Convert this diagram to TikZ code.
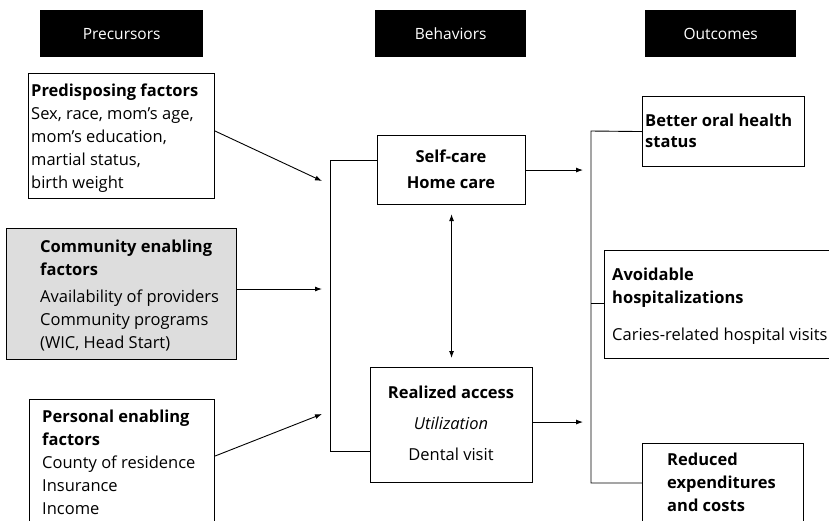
\documentclass[tikz,border=0pt]{standalone}
\usepackage{fontspec}
\setmainfont{Open Sans}
\usetikzlibrary{arrows.meta,calc}
\definecolor{boxgray}{RGB}{221,221,221}
\begin{document}
\begin{tikzpicture}[x=1pt,y=-1pt,
 box/.style={draw,line width=1.1pt,inner sep=0pt,anchor=north west},
 hdr/.style={fill=black,text=white,inner sep=0pt,anchor=north west,font=\fontsize{15.5}{17}\selectfont},
 txt/.style={inner sep=0pt,anchor=north west,align=left,font=\fontsize{16.5}{23}\selectfont},
 ctxt/.style={inner sep=0pt,anchor=north,align=center,font=\fontsize{16.5}{26}\selectfont},
 arr/.style={line width=0.9pt,-{Latex[length=7pt,width=5pt]}},
 darr/.style={line width=0.9pt,{Latex[length=7pt,width=5pt]}-{Latex[length=7pt,width=5pt]}},
 ln/.style={line width=0.9pt}]
\useasboundingbox (0,0) rectangle (829,520);
\clip (0,0) rectangle (829,520);
% headers
\node[hdr,minimum width=163pt,minimum height=47pt] (hp) at (40,10) {Precursors};
\node[hdr,minimum width=151pt,minimum height=47pt] (hb) at (375,10) {Behaviors};
\node[hdr,minimum width=151pt,minimum height=47pt] (ho) at (645,10) {Outcomes};
% boxes
\node[box,minimum width=186pt,minimum height=125pt] (pred) at (28,73) {};
\node[box,fill=boxgray,minimum width=230pt,minimum height=131pt] (comm) at (6,228) {};
\node[box,minimum width=185pt,minimum height=131pt] (pers) at (29,399) {};
\node[box,minimum width=148pt,minimum height=69pt] (self) at (377,135) {};
\node[box,minimum width=162pt,minimum height=115pt] (real) at (370,367) {};
\node[box,minimum width=162pt,minimum height=70pt] (better) at (642,96) {};
\node[box,minimum width=240pt,minimum height=108pt] (avoid) at (604,250) {};
\node[box,minimum width=161pt,minimum height=80pt] (reduced) at (642,443) {};
% texts
\node[txt] (predT) at (31,84) {\textbf{Predisposing factors}\\Sex, race, mom’s age,\\mom’s education,\\martial status,\\birth weight};
\node[txt] (commT) at (40,240) {\textbf{Community enabling}\\\textbf{factors}\\[4pt]Availability of providers\\Community programs\\(WIC, Head Start)};
\node[txt] (persT) at (42,410) {\textbf{Personal enabling}\\\textbf{factors}\\County of residence\\Insurance\\Income};
\node[ctxt] (selfT) at (451,150) {\textbf{Self-care}\\\textbf{Home care}};
\node[ctxt,font=\fontsize{16.5}{31}\selectfont] (realT) at (451,386) {\textbf{Realized access}\\\textit{Utilization}\\Dental visit};
\node[txt,font=\fontsize{16.5}{21}\selectfont] (betterT) at (645,114) {\textbf{Better oral health}\\\textbf{status}};
\node[txt] (avoidT) at (612,268) {\textbf{Avoidable}\\\textbf{hospitalizations}\\[14pt]Caries-related hospital visits};
\node[txt] (reducedT) at (667,453) {\textbf{Reduced}\\\textbf{expenditures}\\\textbf{and costs}};
% connector points
\coordinate (lin1) at (322,181);
\coordinate (lin2) at (322,289);
\coordinate (lin3) at (322,414);
\coordinate (lbt) at (330,160);
\coordinate (lbb) at (330,451);
\coordinate (rbx) at (583,0);
\coordinate (rbt) at (591,131);
\coordinate (rbm) at (591,303);
\coordinate (rbb) at (591,483);
\coordinate (pers0) at (214,456);
% connectors
\draw[arr] ([yshift=5pt]pred.east) -- (lin1);
\draw[arr] (comm.east |- lin2) -- (lin2);
\draw[arr] (pers.east |- pers0) -- (lin3);
\draw[ln] (self.west |- lbt) -- (lbt) -- (lbb) -- (real.west |- lbb);
\draw[arr] (self.east) -- (self.east -| rbx);
\draw[arr] ([yshift=3pt]real.east) -- ([yshift=3pt]real.east -| rbx);
\draw[darr,shorten <=9pt,shorten >=9pt] (self.south) -- (real.north);
\draw[ln] (better.west) -- (rbt) -- (rbb) -- (reduced.west |- rbb);
\draw[ln] (rbm) -- (avoid.west |- rbm);
\end{tikzpicture}
\end{document}
